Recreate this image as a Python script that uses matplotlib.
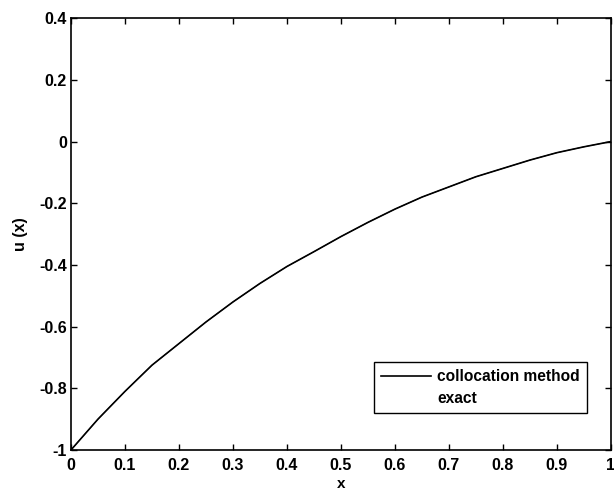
import matplotlib
matplotlib.use("Agg")
import matplotlib.pyplot as plt
from matplotlib.lines import Line2D

x_vals = [0.0, 0.05, 0.1, 0.15, 0.2, 0.25, 0.3, 0.35, 0.4, 0.45, 0.5,
          0.55, 0.6, 0.65, 0.7, 0.75, 0.8, 0.85, 0.9, 0.95, 1.0]
u_colloc = [-1.0, -0.90, -0.81, -0.725, -0.655, -0.585, -0.52, -0.46, -0.405, -0.357, -0.308,
            -0.262, -0.219, -0.18, -0.147, -0.114, -0.087, -0.06, -0.036, -0.017, 0.0]
u_exact = [-1.0, -0.90, -0.81, -0.725, -0.655, -0.585, -0.52, -0.46, -0.405, -0.357, -0.308,
           -0.262, -0.219, -0.18, -0.147, -0.114, -0.087, -0.06, -0.036, -0.017, 0.0]

xticks = [0, 0.1, 0.2, 0.3, 0.4, 0.5, 0.6, 0.7, 0.8, 0.9, 1]
xticklabels = ["0", "0.1", "0.2", "0.3", "0.4", "0.5", "0.6", "0.7", "0.8", "0.9", "1"]
yticks = [-1, -0.8, -0.6, -0.4, -0.2, 0, 0.2, 0.4]
yticklabels = ["-1", "-0.8", "-0.6", "-0.4", "-0.2", "0", "0.2", "0.4"]

plt.rcParams['font.family'] = ['Liberation Sans', 'DejaVu Sans']

fig = plt.figure(figsize=(6.14, 4.92), dpi=100)
ax = fig.add_axes([0.1156, 0.0854, 0.995 - 0.1156, 0.963 - 0.0854])

l1, = ax.plot(x_vals, u_colloc, color='black', linewidth=1.2)
ax.plot(x_vals, u_exact, color='black', linewidth=0.6)

ax.set_xlim(0, 1)
ax.set_ylim(-1, 0.4)
ax.set_xticks(xticks)
ax.set_xticklabels(xticklabels)
ax.set_yticks(yticks)
ax.set_yticklabels(yticklabels)
ax.tick_params(direction='in', top=True, right=True, length=4, width=1,
               labelsize=11.5, pad=3)
ax.tick_params(axis='x', pad=6)
for lab in ax.get_xticklabels() + ax.get_yticklabels():
    lab.set_fontweight('bold')
for s in ax.spines.values():
    s.set_linewidth(1.2)

ax.set_xlabel('x', fontsize=11, fontweight='bold', labelpad=3)
ax.set_ylabel('u (x)', fontsize=11.5, fontweight='bold', labelpad=8)

empty = Line2D([], [], color='none')
leg = ax.legend([l1, empty], ['collocation method', 'exact'],
                loc='lower right', bbox_to_anchor=(0.955, 0.085),
                fontsize=11.2, frameon=True, fancybox=False, framealpha=1,
                edgecolor='black', handlelength=3.2, borderpad=0.45,
                labelspacing=0.45, handletextpad=0.4, borderaxespad=0)
leg.get_frame().set_linewidth(1.0)
for t in leg.get_texts():
    t.set_fontweight('bold')

fig.savefig('out.png', dpi=100)
